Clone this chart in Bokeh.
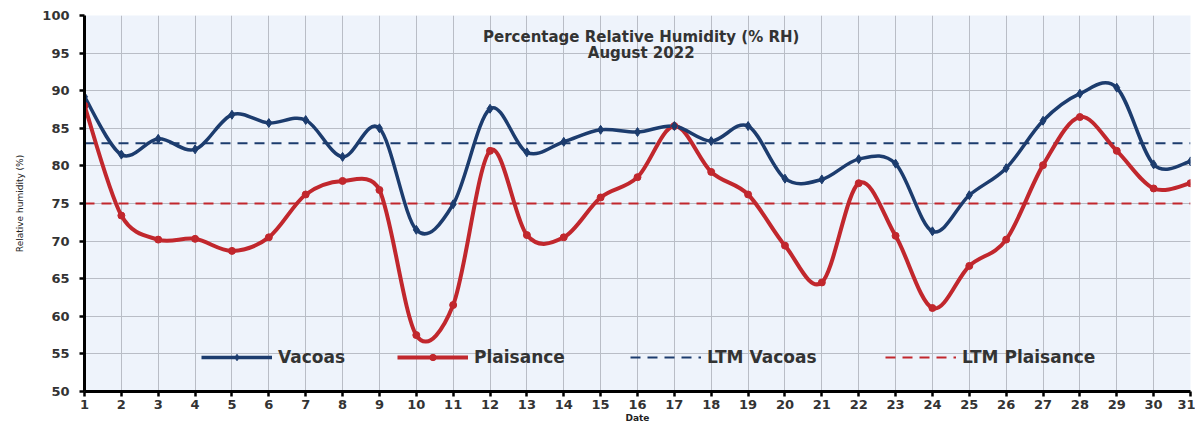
import numpy as np
from bokeh.plotting import figure
from bokeh.models import Legend, LegendItem, Label, FixedTicker, ColumnDataSource
from bokeh.embed import file_html
from bokeh.resources import INLINE

days = list(range(1, 32))
vacoas = [89.2, 81.5, 83.6, 82.2, 86.8, 85.7, 86.1, 81.2, 85.0, 71.5,
          74.9, 87.6, 81.8, 83.2, 84.8, 84.5, 85.3, 83.3, 85.3, 78.3,
          78.2, 80.9, 80.3, 71.3, 76.1, 79.7, 86.0, 89.6, 90.4, 80.2, 80.6]
plaisance = [88.0, 73.4, 70.2, 70.3, 68.7, 70.5, 76.2, 78.0, 76.8, 57.5,
             61.5, 82.0, 70.8, 70.5, 75.8, 78.5, 85.3, 79.2, 76.2, 69.4,
             64.5, 77.7, 70.7, 61.1, 66.7, 70.2, 80.1, 86.5, 82.0, 77.0, 77.7]
ltm_vacoas = 83.0
ltm_plaisance = 75.0
y_ticks = list(range(50, 101, 5))
title_lines = ["Percentage Relative Humidity (% RH)", "August 2022"]
legend_labels = ["Vacoas", "Plaisance", "LTM Vacoas", "LTM Plaisance"]

BLUE = "#1c3c6e"
RED = "#c1272d"
FONT = "DejaVu Sans"

W, H = 1195, 427
BL, BT, BR, BB = 84, 15, 5, 36

p = figure(width=W, height=H, x_range=(1, 31), y_range=(50, 100),
           output_backend="svg", toolbar_location=None,
           background_fill_color="#eef3fb", border_fill_color="white",
           min_border_left=BL, min_border_top=BT, min_border_right=BR,
           min_border_bottom=BB, outline_line_color=None)

# pixel aspect used by the Excel-style smoothing
SX = (W - BL - BR) / 30.0
SY = (H - BT - BB) / 50.0


def bezier_source(x, y, F=1.0 / 6.0):
    x = np.asarray(x, float) * SX
    y = np.asarray(y, float) * SY
    xp = np.concatenate([[x[0]], x, [x[-1]]])
    yp = np.concatenate([[y[0]], y, [y[-1]]])
    d = {k: [] for k in ("x0", "y0", "x1", "y1", "cx0", "cy0", "cx1", "cy1")}
    for i in range(len(x) - 1):
        p0 = np.array([xp[i], yp[i]])
        p1 = np.array([xp[i + 1], yp[i + 1]])
        p2 = np.array([xp[i + 2], yp[i + 2]])
        p3 = np.array([xp[i + 3], yp[i + 3]])
        d02 = np.hypot(*(p2 - p0))
        d12 = np.hypot(*(p2 - p1))
        d13 = np.hypot(*(p3 - p1))
        f1 = F
        f2 = F
        if d02 > 0 and d12 / 2 < F * d02:
            f1 = d12 / (2 * d02)
        if d13 > 0 and d12 / 2 < F * d13:
            f2 = d12 / (2 * d13)
        c1 = p1 + f1 * (p2 - p0)
        c2 = p2 - f2 * (p3 - p1)
        d["x0"].append(p1[0] / SX); d["y0"].append(p1[1] / SY)
        d["x1"].append(p2[0] / SX); d["y1"].append(p2[1] / SY)
        d["cx0"].append(c1[0] / SX); d["cy0"].append(c1[1] / SY)
        d["cx1"].append(c2[0] / SX); d["cy1"].append(c2[1] / SY)
    return ColumnDataSource(d)


# LTM lines
r_ltm_v = p.line([days[0], days[-1]], [ltm_vacoas, ltm_vacoas], line_color=BLUE,
                 line_width=2, line_dash="10 7")
r_ltm_p = p.line([days[0], days[-1]], [ltm_plaisance, ltm_plaisance], line_color=RED,
                 line_width=2, line_dash="10 7")

# smooth curves
bz = dict(x0="x0", y0="y0", x1="x1", y1="y1", cx0="cx0", cy0="cy0", cx1="cx1", cy1="cy1")
p.bezier(source=bezier_source(days, plaisance), line_color=RED, line_width=4, **bz)
p.bezier(source=bezier_source(days, vacoas), line_color=BLUE, line_width=3.5, **bz)
p.scatter(days, plaisance, marker="circle", size=7, fill_color=RED, line_color=RED)
p.scatter(days, vacoas, marker="diamond", size=9, fill_color=BLUE, line_color=BLUE)

# legend proxies (never visible in the plot area)
nan = [float("nan")]
lv = p.line(x=nan, y=nan, line_color=BLUE, line_width=3.5)
sv = p.scatter(x=nan, y=nan, marker="diamond", size=9, fill_color=BLUE, line_color=BLUE)
lp = p.line(x=nan, y=nan, line_color=RED, line_width=4)
sp = p.scatter(x=nan, y=nan, marker="circle", size=7, fill_color=RED, line_color=RED)

legend_renderers = [[lv, sv], [lp, sp], [r_ltm_v], [r_ltm_p]]
legend_x = [117, 313, 546, 801]
for lab, rends, lx in zip(legend_labels, legend_renderers, legend_x):
    lg = Legend(items=[LegendItem(label=lab, renderers=rends)],
                orientation="horizontal", location=(lx, 24), glyph_width=71,
                glyph_height=16, label_standoff=6, padding=0, margin=0,
                background_fill_alpha=0, border_line_color=None,
                label_text_font=FONT, label_text_font_style="bold",
                label_text_font_size="17px", label_text_color="#333333")
    p.add_layout(lg)

# title
for i, t in enumerate(title_lines):
    p.add_layout(Label(x=16.1, y=97.1 - 2.05 * i, text=t, text_align="center",
                       text_baseline="middle", text_font=FONT, text_font_style="bold",
                       text_font_size="15px", text_color="#333333"))

# axes
p.xaxis.ticker = FixedTicker(ticks=days)
p.yaxis.ticker = FixedTicker(ticks=y_ticks)
for ax in (p.xaxis[0], p.yaxis[0]):
    ax.axis_line_width = 3
    ax.axis_line_color = "black"
    ax.major_tick_line_color = "black"
    ax.major_tick_line_width = 2.5
    ax.major_tick_out = 5
    ax.major_tick_in = 0
    ax.minor_tick_line_color = None
    ax.major_label_text_font = FONT
    ax.major_label_text_font_style = "bold"
    ax.major_label_text_font_size = "13px"
    ax.major_label_text_color = "#333333"
    ax.axis_label_text_font = FONT
    ax.axis_label_text_font_style = "normal"
    ax.axis_label_text_font_size = "9px"
    ax.axis_label_text_color = "#222222"
p.xaxis.axis_label = "Date"
p.xaxis.axis_label_text_font_style = "bold"
p.xaxis.axis_label_standoff = 1
p.xaxis.major_label_standoff = 3
p.yaxis.axis_label = "Relative humidity (%)"
p.yaxis.axis_label_standoff = 14
p.yaxis.major_label_standoff = 10

p.grid.grid_line_color = "#b9bdc6"
p.grid.grid_line_width = 1

open("out.html", "w").write(file_html(p, INLINE))
